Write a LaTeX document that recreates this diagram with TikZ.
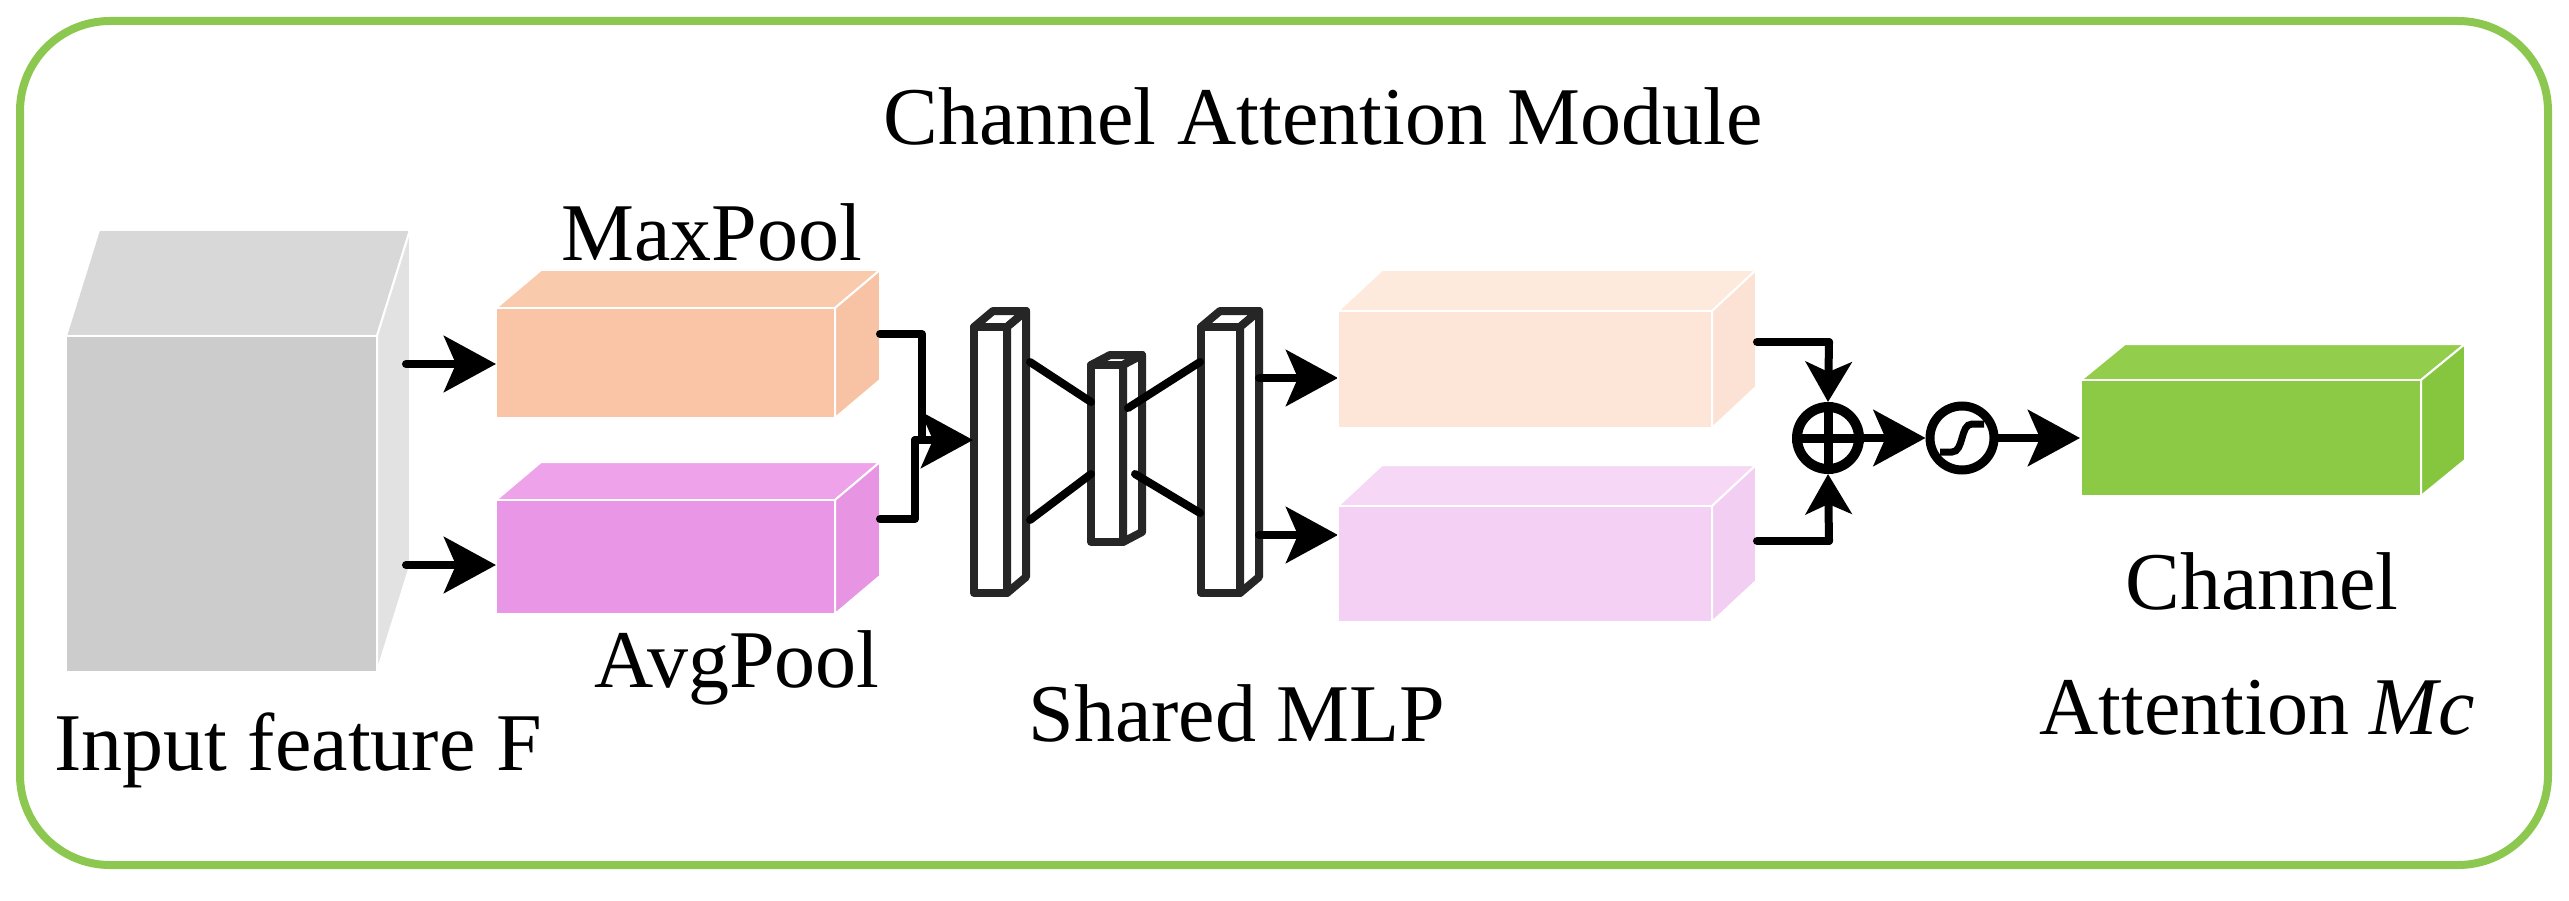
\documentclass[tikz,border=0pt]{standalone}
\usepackage{fontspec}
\setmainfont{Liberation Serif}
\usetikzlibrary{arrows.meta,calc}
\newcommand{\mycub}[9]{%
 \fill[fill=#8,draw=white,line width=2pt] (#1,#2) -- ++(#5,#6) -- ($(#3,#2)+(#5,#6)$) -- (#3,#2) -- cycle;
 \fill[fill=#9,draw=white,line width=2pt] (#3,#2) -- ($(#3,#2)+(#5,#6)$) -- ($(#3,#4)+(#5,#6)$) -- (#3,#4) -- cycle;
 \fill[fill=#7,draw=white,line width=2pt] (#1,#2) rectangle (#3,#4);}
\newcommand{\mybar}[6]{%
 \draw[bar] (#1,#2) -- ++(#5,#6) -- ($(#3,#2)+(#5,#6)$) -- (#3,#2) -- cycle;
 \draw[bar] (#3,#2) -- ($(#3,#2)+(#5,#6)$) -- ($(#3,#4)+(#5,#6)$) -- (#3,#4) -- cycle;
 \draw[bar] (#1,#2) rectangle (#3,#4);}
\definecolor{frameg}{RGB}{140,200,80}
\definecolor{barc}{RGB}{38,38,38}
\definecolor{pf}{RGB}{249,197,166}\definecolor{pt}{RGB}{250,202,172}\definecolor{ps}{RGB}{248,194,164}
\definecolor{vf}{RGB}{234,150,230}\definecolor{vt}{RGB}{237,162,233}\definecolor{vs}{RGB}{231,148,227}
\definecolor{lpf}{RGB}{253,229,216}\definecolor{lpt}{RGB}{254,233,221}\definecolor{lps}{RGB}{252,226,212}
\definecolor{lvf}{RGB}{244,209,244}\definecolor{lvt}{RGB}{246,215,245}\definecolor{lvs}{RGB}{243,206,243}
\definecolor{gf}{RGB}{140,202,70}\definecolor{gt}{RGB}{146,205,76}\definecolor{gs}{RGB}{134,198,62}
\definecolor{if}{RGB}{204,204,204}\definecolor{it}{RGB}{216,216,216}\definecolor{is}{RGB}{226,226,226}
\begin{document}
\begin{tikzpicture}[x=1pt,y=-1pt,
  lbl/.style={font=\fontsize{82}{88}\selectfont,inner sep=0pt},
  bar/.style={line width=8pt,draw=barc,line join=round,fill=white},
  con/.style={line width=8pt,line join=round,line cap=round},
  arr/.style={con,-{Stealth[length=52pt,width=56pt,inset=12pt]}},
  sarr/.style={con,-{Stealth[length=40pt,width=46pt,inset=10pt]}}]
\useasboundingbox (0,0) rectangle (2569,901);
\fill[white] (0,0) rectangle (2569,901);
\draw[frameg,line width=8pt,rounded corners=90pt] (20,21) rectangle (2548,865);
\node[lbl] (title) at (1323,116) {Channel Attention Module};
\mycub{66}{336}{377}{672}{33}{-106}{if}{it}{is}
\node[lbl] (inlbl) at (298,750) {Input feature F};
\mycub{496}{308}{835}{418}{45}{-38}{pf}{pt}{ps}
\mycub{496}{500}{835}{614}{45}{-38}{vf}{vt}{vs}
\node[lbl] (maxl) at (712,232) {MaxPool};
\node[lbl] (avgl) at (737,668) {AvgPool};
\coordinate (a1) at (406,364); \coordinate (b1) at (496,364);
\coordinate (a2) at (406,565); \coordinate (b2) at (496,565);
\draw[arr] (a1) -- (b1);
\draw[arr] (a2) -- (b2);
\mybar{974}{327}{1007}{593}{19}{-16}
\mybar{1091}{365}{1123}{542}{19}{-10}
\mybar{1201}{327}{1240}{593}{19}{-16}
\coordinate (m1) at (880,334); \coordinate (m2) at (880,519);
\coordinate (mj) at (915,440); \coordinate (mt) at (973,440);
\draw[con] (m1) -- (922,334) -- (922,440);
\draw[con] (m2) -- (915,519) -- (mj);
\draw[arr] (mj) -- (mt);
\draw[con] (1030,362) -- (1091,402);
\draw[con] (1030,520) -- (1091,474);
\draw[con] (1128,408) -- (1200,362);
\draw[con] (1135,474) -- (1200,513);
\coordinate (o1) at (1259,378); \coordinate (p1) at (1338,378);
\coordinate (o2) at (1259,535); \coordinate (p2) at (1338,535);
\draw[arr] (o1) -- (p1);
\draw[arr] (o2) -- (p2);
\node[lbl] (mlpl) at (1237,713) {Shared MLP};
\mycub{1338}{311}{1712}{428}{44}{-41}{lpf}{lpt}{lps}
\mycub{1338}{506}{1712}{622}{44}{-41}{lvf}{lvt}{lvs}
\node[circle,draw,line width=10pt,minimum size=62pt,inner sep=0pt] (plus) at (1828,438) {};
\draw[line width=9pt] (plus.north) -- (plus.south) (plus.west) -- (plus.east);
\node[circle,draw,line width=9pt,minimum size=64pt,inner sep=0pt] (sig) at (1962,438) {};
\draw[line width=7pt] ($(sig)+(-22,14)$) -- ($(sig)+(-10,14)$) .. controls ($(sig)+(2,14)$) and ($(sig)+(-2,-14)$) .. ($(sig)+(10,-14)$) -- ($(sig)+(22,-14)$);
\coordinate (q1) at (1757,342); \coordinate (q2) at (1757,541);
\coordinate (q1b) at (1829,342); \coordinate (q2b) at (1829,541);
\draw[con] (q1) -- (q1b);
\draw[sarr] (q1b) -- (plus.north);
\draw[con] (q2) -- (q2b);
\draw[sarr] (q2b) -- (plus.south);
\draw[arr] (plus.east) -- (sig.west);
\coordinate (gtip) at (2080,438);
\draw[arr] (sig.east) -- (gtip);
\mycub{2081}{380}{2421}{496}{44}{-36}{gf}{gt}{gs}
\node[lbl] (c1) at (2262,581) {Channel};
\node[lbl] (c2) at (2257,708) {Attention \textit{Mc}};
\end{tikzpicture}
\end{document}
